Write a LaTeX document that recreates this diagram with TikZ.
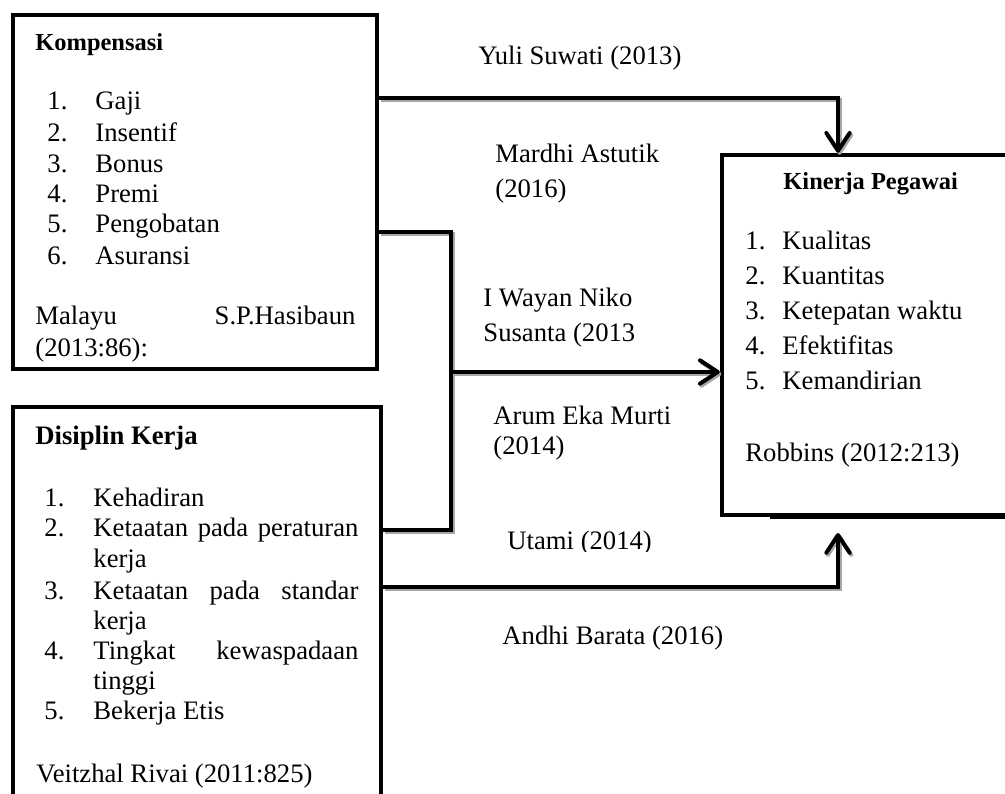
\documentclass[tikz,border=0pt]{standalone}
\usepackage{fontspec}
\setmainfont{Liberation Serif}
\usetikzlibrary{arrows.meta}
\begin{document}
\begin{tikzpicture}[x=0.45pt,y=-0.45pt,
  box/.style={draw, line width=2pt, inner sep=0pt},
  lbl/.style={anchor=base west, inner sep=0pt, font=\fontsize{12}{14}\selectfont},
  ttl/.style={anchor=base west, inner sep=0pt, font=\fontsize{11}{13}\selectfont\bfseries},
  ttlb/.style={anchor=base west, inner sep=0pt, font=\fontsize{12}{14}\selectfont\bfseries},
  conn/.style={line width=1.8pt, preaction={draw=black!35, line width=1.8pt, transform canvas={shift={(0.7pt,-0.9pt)}}}},
  arr/.style={-{Straight Barb[length=8pt,width=10.5pt,round]}}
]
\useasboundingbox (0,0) rectangle (1005,794);
% boxes
\node[box, minimum width=163.8pt, minimum height=159.3pt] (komp) at (195,192) {};
\node[box, minimum width=165.6pt, minimum height=190.35pt] (disc) at (197,618.5) {};
\node[box, minimum width=152.1pt, minimum height=162pt] (kin) at (891,335) {};
\draw[line width=2pt] (770,516.5) -- (1010,516.5);

% Kompensasi text
\node[ttl] (kt) at (35,51) {Kompensasi};
\node[lbl] (kn1) at (47,110) {1.}; \node[lbl] (ki1) at (95,110) {Gaji};
\node[lbl] (kn2) at (47,142) {2.}; \node[lbl] (ki2) at (95,142) {Insentif};
\node[lbl] (kn3) at (47,173) {3.}; \node[lbl] (ki3) at (95,173) {Bonus};
\node[lbl] (kn4) at (47,203) {4.}; \node[lbl] (ki4) at (95,203) {Premi};
\node[lbl] (kn5) at (47,233) {5.}; \node[lbl] (ki5) at (95,233) {Pengobatan};
\node[lbl] (kn6) at (47,265) {6.}; \node[lbl] (ki6) at (95,265) {Asuransi};
\node[lbl] (ks1) at (35,325) {\makebox[144pt][s]{Malayu S.P.Hasibaun}};
\node[lbl] (ks2) at (35,357) {(2013:86):};

% Disiplin text
\node[ttlb] (dt) at (35,445) {Disiplin Kerja};
\node[lbl] (dn1) at (44,507) {1.}; \node[lbl] (di1) at (93,507) {Kehadiran};
\node[lbl] (dn2) at (44,537) {2.}; \node[lbl] (di2) at (93,537) {\makebox[119.25pt][s]{Ketaatan pada peraturan}};
\node[lbl] (di2b) at (93,568) {kerja};
\node[lbl] (dn3) at (44,600) {3.}; \node[lbl] (di3) at (93,600) {\makebox[119.25pt][s]{Ketaatan pada standar}};
\node[lbl] (di3b) at (93,630) {kerja};
\node[lbl] (dn4) at (44,660) {4.}; \node[lbl] (di4) at (93,660) {\makebox[119.25pt][s]{Tingkat kewaspadaan}};
\node[lbl] (di4b) at (93,690) {tinggi};
\node[lbl] (dn5) at (44,720) {5.}; \node[lbl] (di5) at (93,720) {Bekerja Etis};
\node[lbl] (ds) at (36,783) {Veitzhal Rivai (2011:825)};

% Kinerja text
\node[ttl] (nt) at (783,190) {Kinerja Pegawai};
\node[lbl] (nn1) at (745,250) {1.}; \node[lbl] (ni1) at (782,250) {Kualitas};
\node[lbl] (nn2) at (745,285) {2.}; \node[lbl] (ni2) at (782,285) {Kuantitas};
\node[lbl] (nn3) at (745,320) {3.}; \node[lbl] (ni3) at (782,320) {Ketepatan waktu};
\node[lbl] (nn4) at (745,355) {4.}; \node[lbl] (ni4) at (782,355) {Efektifitas};
\node[lbl] (nn5) at (745,390) {5.}; \node[lbl] (ni5) at (782,390) {Kemandirian};
\node[lbl] (ns) at (745,462) {Robbins (2012:213)};

% connector labels
\node[lbl] (yuli) at (478,65) {Yuli Suwati (2013)};
\node[lbl] (mar1) at (495,163) {Mardhi Astutik};
\node[lbl] (mar2) at (495,198) {(2016)};
\node[lbl] (way1) at (483,307) {I Wayan Niko};
\node[lbl] (way2) at (483,342) {Susanta (2013};
\node[lbl] (arum1) at (493,425) {Arum Eka Murti};
\node[lbl] (arum2) at (493,455) {(2014)};
\begin{scope}
\clip (400,500) rectangle (700,552);
\node[lbl] (utami) at (507,550) {Utami (2014)};
\end{scope}
\node[lbl] (andhi) at (502,645) {Andhi Barata (2016)};

% connectors
\coordinate (t1) at (838,98);
\draw[conn,arr] (komp.east |- t1) -| (kin.north -| t1);
\coordinate (j1) at (451,232);
\coordinate (j2) at (451,530);
\coordinate (j3) at (451,372);
\draw[conn] (komp.east |- j1) -- (j1) -- (j2) -- (disc.east |- j2);
\draw[conn,arr] (j3) -- (kin.west |- j3);
\coordinate (b1) at (838,587);
\coordinate (b2) at (838,533);
\draw[conn,arr] (disc.east |- b1) -- (b1) -- (b2);
\end{tikzpicture}
\end{document}
